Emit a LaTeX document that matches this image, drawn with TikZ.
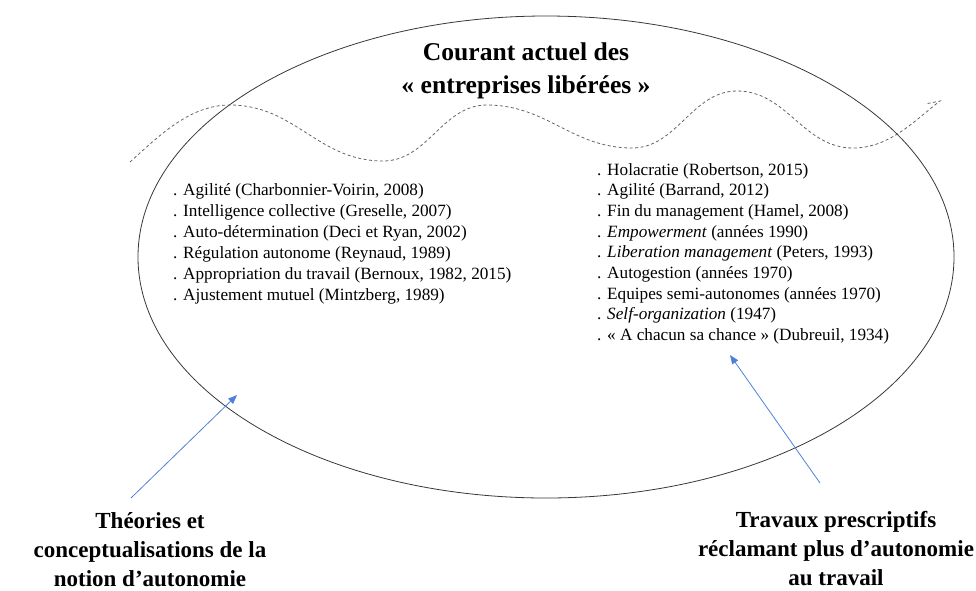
\documentclass[tikz,border=0pt]{standalone}
\usepackage{fontspec}
\setmainfont{Liberation Serif}
\usetikzlibrary{shapes.geometric,arrows.meta}
\definecolor{arrowblue}{RGB}{79,129,219}
\definecolor{ellgray}{RGB}{55,55,55}
\definecolor{wavegray}{RGB}{100,100,100}
\tikzset{
  titletext/.style={font=\fontsize{25.6}{30}\selectfont\bfseries, anchor=base, inner sep=0},
  listitem/.style={font=\fontsize{17.2}{20}\selectfont, anchor=base west, inner sep=0},
  labeltext/.style={font=\fontsize{23}{29}\selectfont\bfseries, anchor=base, inner sep=0},
  bluearrow/.style={draw=arrowblue, line width=0.8pt, -{Triangle[length=9pt,width=7pt]}},
}
\begin{document}
\begin{tikzpicture}[x=1pt,y=-1pt]
\useasboundingbox (0,0) rectangle (976,590);
% ellipse
\node[draw=ellgray, line width=0.8pt, ellipse, inner sep=0, minimum width=816, minimum height=482] (ell) at (546,257) {};
% wavy dashed line
\draw[wavegray, line width=0.8pt, dash pattern=on 3pt off 2.5pt]
  (130,162) .. controls (160,135) and (190,105) .. (230,105)
  .. controls (295,105) and (318,161) .. (383,161)
  .. controls (428,161) and (442,105) .. (487,105)
  .. controls (547,105) and (572,148) .. (632,148)
  .. controls (677,148) and (692,91) .. (737,91)
  .. controls (787,91) and (803,148) .. (853,148)
  .. controls (890,148) and (915,120) .. (940,101)
  -- (925,104);
% title
\node[titletext] (t1) at (526,60) {Courant actuel des};
\node[titletext] (t2) at (526,93) {« entreprises libérées »};
% left list
\node[listitem] (l1) at (173,195) {. Agilité (Charbonnier-Voirin, 2008)};
\node[listitem] (l2) at (173,216) {. Intelligence collective (Greselle, 2007)};
\node[listitem] (l3) at (173,237) {. Auto-détermination (Deci et Ryan, 2002)};
\node[listitem] (l4) at (173,258) {. Régulation autonome (Reynaud, 1989)};
\node[listitem] (l5) at (173,279) {. Appropriation du travail (Bernoux, 1982, 2015)};
\node[listitem] (l6) at (173,300) {. Ajustement mutuel (Mintzberg, 1989)};
% right list
\node[listitem] (r1) at (597,175) {. Holacratie (Robertson, 2015)};
\node[listitem] (r2) at (597,195.7) {. Agilité (Barrand, 2012)};
\node[listitem] (r3) at (597,216.4) {. Fin du management (Hamel, 2008)};
\node[listitem] (r4) at (597,237.1) {. \textit{Empowerment} (années 1990)};
\node[listitem] (r5) at (597,257.8) {. \textit{Liberation management} (Peters, 1993)};
\node[listitem] (r6) at (597,278.5) {. Autogestion (années 1970)};
\node[listitem] (r7) at (597,299.2) {. Equipes semi-autonomes (années 1970)};
\node[listitem] (r8) at (597,319.9) {. \textit{Self-organization} (1947)};
\node[listitem] (r9) at (597,340.6) {. « A chacun sa chance » (Dubreuil, 1934)};
% bottom labels
\node[labeltext] (lab1a) at (150,528) {Théories et};
\node[labeltext] (lab1b) at (150,557) {conceptualisations de la};
\node[labeltext] (lab1c) at (150,586) {notion d’autonomie};
\node[labeltext] (lab2a) at (836,527) {Travaux prescriptifs};
\node[labeltext] (lab2b) at (836,556) {réclamant plus d’autonomie};
\node[labeltext] (lab2c) at (836,585) {au travail};
% arrows
\coordinate (a1s) at (131,498);
\coordinate (a1e) at (237,395);
\coordinate (a2s) at (820,483);
\coordinate (a2e) at (730,355);
\draw[bluearrow] (a1s) -- (a1e);
\draw[bluearrow] (a2s) -- (a2e);
\end{tikzpicture}
\end{document}
